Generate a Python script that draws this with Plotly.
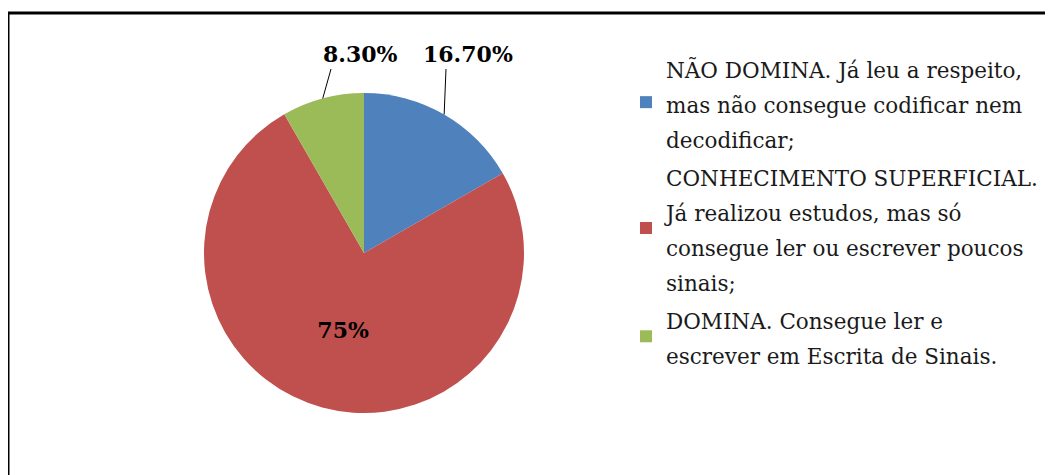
import plotly.graph_objects as go
import math

# the page has an 8px body margin; the figure fills the rest of the 1053x475 window
OFF = 8
W, H = 1053 - OFF, 475 - OFF

# ---- data ----
categories = [
    ["NÃO DOMINA. Já leu a respeito,", "mas não consegue codificar nem", "decodificar;"],
    ["CONHECIMENTO SUPERFICIAL.", "Já realizou estudos, mas só", "consegue ler ou escrever poucos", "sinais;"],
    ["DOMINA. Consegue ler e", "escrever em Escrita de Sinais."],
]
values = [16.7, 75.0, 8.3]
value_labels = ["16.70%", "75%", "8.30%"]
colors = ["#4F81BD", "#C0504D", "#9BBB59"]

FONT = "DejaVu Serif"

def px(x):
    """page pixel x -> paper fraction"""
    return (x - OFF) / W

def py(y):
    """page pixel y -> paper fraction"""
    return 1 - (y - OFF) / H

# pie geometry (page pixels)
cx, cy, r = 364, 253, 160

legend_names = [
    "<br>".join('<span style="font-size:21.5px">%s</span>' % ln for ln in lines)
    for lines in categories
]

fig = go.Figure()
fig.add_trace(go.Pie(
    labels=legend_names,
    values=values,
    text=value_labels,
    textinfo="text",
    textposition=["none", "inside", "none"],
    insidetextfont=dict(family=FONT, size=22, color="black", weight="bold"),
    marker=dict(colors=colors, line=dict(width=0)),
    sort=False,
    direction="clockwise",
    rotation=0,
    hoverinfo="skip",
    domain=dict(x=[px(cx - r), px(cx + r)], y=[py(cy + r), py(cy - r)]),
))

# outside labels with leader lines
total = sum(values)
starts = []
acc = 0
for v in values:
    starts.append(acc)
    acc += v

label_pos = {0: (468, 54, 446, 69), 2: (360, 54, 331, 69)}
shapes = []
annotations = []
for i, (tx, ty, lx, ly) in label_pos.items():
    mid = (starts[i] + values[i] / 2) / total * 2 * math.pi
    ex = cx + r * math.sin(mid)
    ey = cy - r * math.cos(mid)
    shapes.append(dict(type="line", xref="paper", yref="paper",
                       x0=px(lx), y0=py(ly), x1=px(ex), y1=py(ey),
                       line=dict(color="black", width=1)))
    annotations.append(dict(text=value_labels[i], x=px(tx), y=py(ty), xref="paper", yref="paper",
                            showarrow=False, xanchor="center", yanchor="middle",
                            font=dict(family=FONT, size=22, color="black", weight="bold")))

# frame lines (left and top)
shapes.append(dict(type="line", xref="paper", yref="paper", x0=px(8), y0=py(13), x1=px(8), y1=0,
                   line=dict(color="black", width=3)))
shapes.append(dict(type="line", xref="paper", yref="paper", x0=px(8), y0=py(13), x1=1, y1=py(13),
                   line=dict(color="black", width=3)))

fig.update_layout(
    width=W, height=H,
    margin=dict(l=0, r=0, t=0, b=0),
    paper_bgcolor="white",
    plot_bgcolor="white",
    showlegend=True,
    legend=dict(
        x=px(626), y=py(43), xanchor="left", yanchor="top",
        font=dict(family=FONT, size=27, color="#1a1a1a"),
        valign="middle", bgcolor="rgba(0,0,0,0)",
        itemclick=False, itemdoubleclick=False,
    ),
    shapes=shapes,
    annotations=annotations,
)

fig.write_html("out.html")
